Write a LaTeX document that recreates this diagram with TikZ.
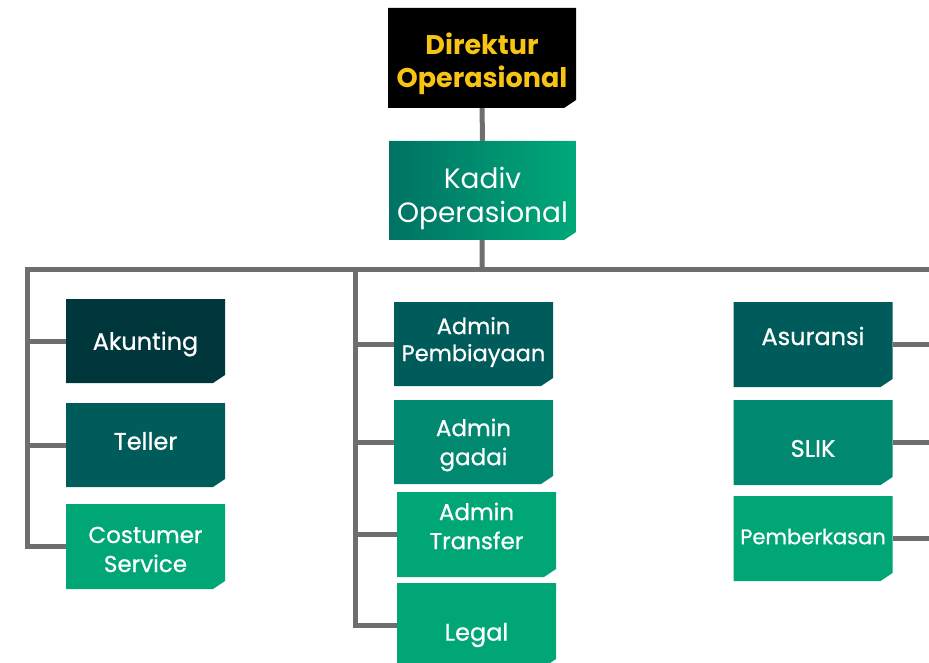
\documentclass[tikz,border=0pt]{standalone}
\usepackage{fontspec}
\setmainfont{Poppins}
\newfontfamily\semifont{Poppins}[FakeBold=0.7]
\usepackage{tikz}
\usetikzlibrary{positioning}
\definecolor{lineGray}{HTML}{6D6F6F}
\definecolor{tealDeep}{HTML}{00373D}
\definecolor{tealDark}{HTML}{005B5B}
\definecolor{tealMid}{HTML}{008870}
\definecolor{greenBright}{HTML}{00A676}
\definecolor{kadivLeft}{HTML}{007264}
\definecolor{kadivRight}{HTML}{00A979}
\definecolor{gold}{HTML}{F7C413}
\tikzset{
  every picture/.style={line join=miter},
  % box with the small cut at the lower right corner
  unit/.style={minimum width=159pt, minimum height=84pt, inner sep=0pt,
    path picture={\fill[#1] (path picture bounding box.north west)
      -- (path picture bounding box.north east)
      -- ([yshift=8pt]path picture bounding box.south east)
      -- ([xshift=-12pt]path picture bounding box.south east)
      -- (path picture bounding box.south west) -- cycle;}},
  tag/.style={text=white, align=center, inner sep=0pt,
    font=\semifont\fontsize{24}{28}\selectfont},
  link/.style={draw=lineGray, line width=5pt},
}
\begin{document}
\begin{tikzpicture}[x=1pt,y=-1pt]
\clip (0,0) rectangle (929,663);
\useasboundingbox (0,0) rectangle (929,663);

\node[unit=black, minimum width=188pt, minimum height=100pt,
  label={[tag, text=gold, font=\fontsize{27}{33}\selectfont\bfseries, yshift=-6pt]center:Direktur\\Operasional}] (direktur) at (482,58) {};
\node[minimum width=187pt, minimum height=99pt, inner sep=0pt,
  path picture={\shade[left color=kadivLeft, right color=kadivRight]
    (path picture bounding box.north west) -- (path picture bounding box.north east)
    -- ([yshift=8pt]path picture bounding box.south east)
    -- ([xshift=-12pt]path picture bounding box.south east)
    -- (path picture bounding box.south west) -- cycle;},
  label={[tag, font=\fontsize{28}{34}\selectfont, yshift=-8pt]center:Kadiv\\Operasional}] (kadiv) at (482.5,190.5) {};

% kolom kiri
\node[unit=tealDeep, label={[tag, yshift=-3pt]center:Akunting}] (akunting) at (145.5,341) {};
\node[unit=tealDark, label={[tag, yshift=4pt]center:Teller}] (teller) at (145.5,445) {};
\node[unit=greenBright, minimum height=85pt,
  label={[tag, font=\semifont\fontsize{23}{29}\selectfont, yshift=-3pt]center:Costumer\\Service}] (cs) at (145.5,546.5) {};

% kolom tengah
\node[unit=tealDark,
  label={[tag, font=\semifont\fontsize{22.5}{25}\selectfont, yshift=2pt]center:\raisebox{2pt}{Admin}\\Pembiayaan}] (pembiayaan) at (473.5,344) {};
\node[unit=tealMid,
  label={[tag, font=\semifont\fontsize{23}{29}\selectfont, yshift=-3pt]center:Admin\\gadai}] (gadai) at (473.5,442) {};
\node[unit=greenBright, minimum height=85pt,
  label={[tag, font=\semifont\fontsize{23}{29}\selectfont, yshift=8.5pt]center:Admin\\Transfer}] (transfer) at (476.5,534.5) {};
\node[unit=greenBright, label={[tag, yshift=-10pt]center:Legal}] (legal) at (476.5,625) {};

% kolom kanan
\node[unit=tealDark, minimum height=85pt, label={[tag, yshift=8.5pt]center:Asuransi}] (asuransi) at (813,344.5) {};
\node[unit=tealMid, minimum height=85pt, label={[tag, yshift=-6pt]center:SLIK}] (slik) at (813,442.5) {};
\node[unit=greenBright, minimum height=85pt,
  label={[tag, font=\semifont\fontsize{21}{24}\selectfont, yshift=2pt]center:Pemberkasan}] (berkas) at (813,538.5) {};

\coordinate (hub) at (482,269);
\coordinate (busL) at (27,269);
\coordinate (busM) at (355,269);
\coordinate (busR) at (940,269);

\draw[link] (direktur) -- (kadiv);
\draw[link] (kadiv) -- (hub);
\draw[link] (busR) -- (busL) -- (busL |- cs.west) -- (cs.west);
\draw[link] (busM) -- (busM |- legal.west) -- (legal.west);
\draw[link] (akunting.west) -- (akunting.west -| busL);
\draw[link] (teller.west) -- (teller.west -| busL);
\draw[link] (pembiayaan.west) -- (pembiayaan.west -| busM);
\draw[link] (gadai.west) -- (gadai.west -| busM);
\draw[link] (transfer.west) -- (transfer.west -| busM);
\draw[link] (asuransi.east) -- (asuransi.east -| busR);
\draw[link] (slik.east) -- (slik.east -| busR);
\draw[link] (berkas.east) -- (berkas.east -| busR);
\end{tikzpicture}
\end{document}
